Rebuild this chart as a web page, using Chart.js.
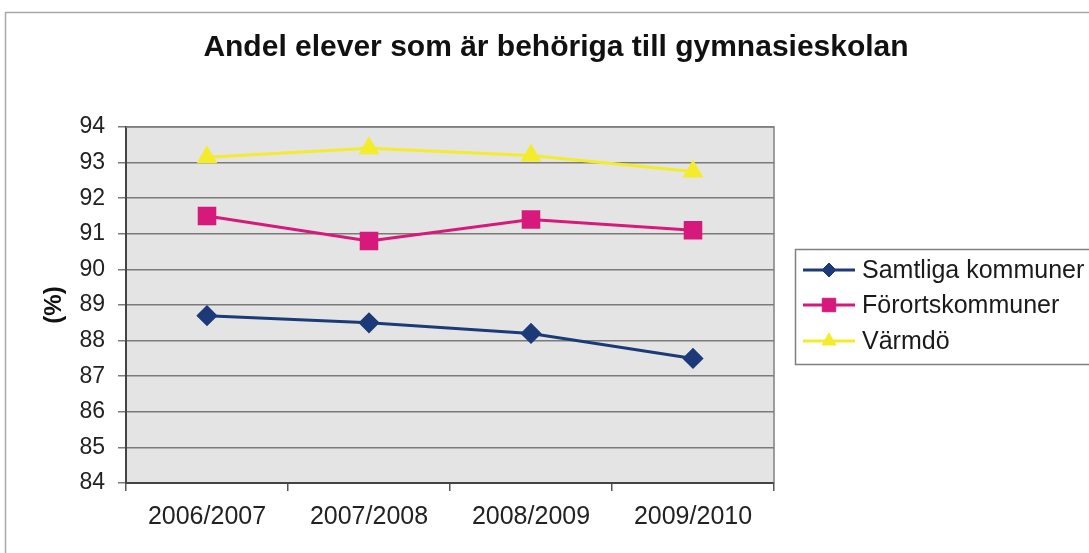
<!DOCTYPE html>
<html lang="sv">
<head>
  <meta charset="UTF-8">
  <title>Andel elever som är behöriga till gymnasieskolan</title>
  <script src="https://cdn.jsdelivr.net/npm/chart.js"></script>
  <style>
    html, body { margin: 0; padding: 0; background: #fff; }
    #wrap { position: relative; width: 1089px; height: 553px; }
  </style>
</head>
<body>
  <div id="wrap"><canvas id="chart" width="1089" height="553"></canvas></div>

  <script>
    // chart data
    var chartTitle = 'Andel elever som är behöriga till gymnasieskolan';
    var years = ['2006/2007', '2007/2008', '2008/2009', '2009/2010'];
    var samtliga = [88.7, 88.5, 88.2, 87.5];
    var fororts = [91.5, 90.8, 91.4, 91.1];
    var varmdo = [93.15, 93.4, 93.2, 92.75];
    var seriesNames = ['Samtliga kommuner', 'Förortskommuner', 'Värmdö'];
    var yMin = 84, yMax = 94;

    var font = 'Liberation Sans, Arial, Helvetica, sans-serif';

    // title, plot frame and legend are drawn here
    var decorPlugin = {
      id: 'decor',
      beforeDraw: function(chart) {
        var ctx = chart.ctx, a = chart.chartArea;
        ctx.save();
        // outer chart frame (cut off at top/left edges)
        ctx.strokeStyle = '#a8a8a8';
        ctx.lineWidth = 1.5;
        ctx.beginPath();
        ctx.moveTo(5.5, 553);
        ctx.lineTo(5.5, 12.5);
        ctx.lineTo(1089, 12.5);
        ctx.stroke();
        // plot background
        ctx.fillStyle = '#e4e4e4';
        ctx.fillRect(a.left, a.top, a.right - a.left, a.bottom - a.top);
        ctx.restore();
      },
      afterDatasetsDraw: function(chart) {
        var ctx = chart.ctx, a = chart.chartArea;
        ctx.save();
        ctx.strokeStyle = '#808080';
        ctx.lineWidth = 1.5;
        ctx.beginPath();
        ctx.moveTo(a.left, a.top);
        ctx.lineTo(a.right, a.top);
        ctx.lineTo(a.right, a.bottom);
        ctx.stroke();
        ctx.restore();
      },
      afterDraw: function(chart) {
        var ctx = chart.ctx;
        ctx.save();
        // title
        ctx.fillStyle = '#111';
        ctx.font = 'bold 30px ' + font;
        ctx.textAlign = 'center';
        ctx.textBaseline = 'middle';
        ctx.fillText(chartTitle, 556, 48);

        // legend box
        ctx.strokeStyle = '#808080';
        ctx.lineWidth = 1.5;
        ctx.strokeRect(795.5, 249.5, 320, 115);
        var rowY = [270, 305, 341];
        chart.data.datasets.forEach(function(ds, i) {
          var y = rowY[i];
          ctx.strokeStyle = ds.borderColor;
          ctx.lineWidth = 3;
          ctx.beginPath();
          ctx.moveTo(803, y);
          ctx.lineTo(855, y);
          ctx.stroke();
          ctx.fillStyle = ds.pointBackgroundColor;
          ctx.strokeStyle = ds.pointBorderColor;
          ctx.lineWidth = 1;
          Chart.helpers.drawPoint(ctx, {
            pointStyle: ds.pointStyle,
            radius: ds.legendRadius,
            borderWidth: 1
          }, 829, y);
          ctx.fillStyle = '#1a1a1a';
          ctx.font = '25px ' + font;
          ctx.textAlign = 'left';
          ctx.textBaseline = 'middle';
          ctx.fillText(ds.label, 862, y + 1);
        });
        ctx.restore();
      }
    };

    var ctx = document.getElementById('chart').getContext('2d');
    var chart = new Chart(ctx, {
      type: 'line',
      data: {
        labels: years,
        datasets: [{
          label: seriesNames[0],
          data: samtliga,
          borderColor: '#1c3a78',
          backgroundColor: '#1c3a78',
          pointBackgroundColor: '#1c3a78',
          pointBorderColor: '#1c3a78',
          pointStyle: 'rectRot',
          pointRadius: 8.5,
          legendRadius: 7,
          borderWidth: 3,
          tension: 0
        }, {
          label: seriesNames[1],
          data: fororts,
          borderColor: '#d61a7c',
          backgroundColor: '#d61a7c',
          pointBackgroundColor: '#d61a7c',
          pointBorderColor: '#d61a7c',
          pointStyle: 'rect',
          pointRadius: 11,
          legendRadius: 9.5,
          borderWidth: 3,
          tension: 0
        }, {
          label: seriesNames[2],
          data: varmdo,
          borderColor: '#f2ec2c',
          backgroundColor: '#f2ec2c',
          pointBackgroundColor: '#f2ec2c',
          pointBorderColor: '#f2ec2c',
          pointStyle: 'triangle',
          pointRadius: 9,
          legendRadius: 8,
          borderWidth: 3,
          tension: 0
        }]
      },
      options: {
        responsive: false,
        animation: false,
        layout: {
          padding: { left: 36, top: 127, right: 315, bottom: 0 }
        },
        plugins: {
          legend: { display: false },
          title: { display: false },
          tooltip: { enabled: false }
        },
        scales: {
          x: {
            type: 'category',
            offset: true,
            afterFit: function(scale) { scale.height = 70; },
            grid: {
              offset: true,
              drawOnChartArea: false,
              drawTicks: true,
              tickLength: 8,
              color: '#555',
              lineWidth: 1.5
            },
            border: { display: true, color: '#444', width: 2 },
            ticks: {
              color: '#222',
              padding: 11,
              font: { family: font, size: 25 }
            }
          },
          y: {
            min: yMin,
            max: yMax,
            afterFit: function(scale) { scale.width = 90; },
            title: {
              display: true,
              text: '(%)',
              color: '#111',
              font: { family: font, size: 24, weight: 'bold' },
              padding: { top: 4, bottom: 4 }
            },
            grid: {
              color: '#7a7a7a',
              lineWidth: 1.5,
              drawTicks: true,
              tickLength: 8
            },
            border: { display: true, color: '#444', width: 2 },
            ticks: {
              stepSize: 1,
              color: '#222',
              padding: 13,
              font: { family: font, size: 23 }
            }
          }
        }
      },
      plugins: [decorPlugin]
    });
  </script>
</body>
</html>
